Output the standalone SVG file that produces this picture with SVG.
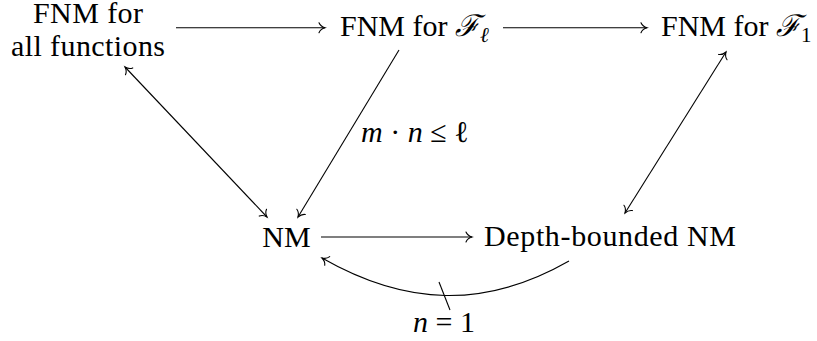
<svg xmlns="http://www.w3.org/2000/svg" width="817" height="341" viewBox="0 0 817 341">
<style>
text{font-size:30px;fill:#000}
.c{text-anchor:middle}
.i{font-style:italic}
.sub{font-size:21px}
.e{fill:none;stroke:#000;stroke-width:1.1}
.h{fill:none;stroke:#000;stroke-width:1.1;stroke-linecap:round}
</style>
<defs>
<marker id="to" markerUnits="userSpaceOnUse" markerWidth="14" markerHeight="14" viewBox="-8 -7 10 14" refX="0" refY="0" orient="auto-start-reverse">
<path class="h" d="M-6,-5 C-5,-2.5 -2,-0.6 0,0 C-2,0.6 -5,2.5 -6,5"/>
</marker>
</defs>
<rect width="817" height="341" fill="#fff"/>
<g style="font-family:'Liberation Serif','DejaVu Serif',serif">
<g id="n-all">
<text class="c" x="88" y="23" textLength="110" lengthAdjust="spacing">FNM for</text>
<text class="c" x="88" y="56" textLength="154" lengthAdjust="spacing">all functions</text>
</g>
<g id="n-fl">
<text x="340" y="36">FNM for <tspan class="i">ℱ</tspan><tspan class="sub i" dy="6">ℓ</tspan></text>
</g>
<g id="n-f1">
<text x="661" y="36">FNM for <tspan class="i">ℱ</tspan><tspan class="sub" dy="6">1</tspan></text>
</g>
<g id="n-nm">
<text class="c" x="286.5" y="247">NM</text>
</g>
<g id="n-dnm">
<text class="c" x="610" y="246" textLength="252" lengthAdjust="spacing">Depth-bounded NM</text>
</g>
<g id="edges">
<path class="e" d="M176,27.7 H325" marker-end="url(#to)"/>
<path class="e" d="M503,27.7 H647" marker-end="url(#to)"/>
<path class="e" d="M399,50 L298,217" marker-end="url(#to)"/>
<path class="e" d="M125,67 L267,217" marker-start="url(#to)" marker-end="url(#to)"/>
<path class="e" d="M625,213 L726,52" marker-start="url(#to)" marker-end="url(#to)"/>
<path class="e" d="M321,237 H472" marker-end="url(#to)"/>
<path class="e" d="M569,261 C485,309 406,306 322,258" marker-end="url(#to)"/>
<path class="e" d="M439,282 L450,310"/>
<text x="361" y="142"><tspan class="i">m</tspan> · <tspan class="i">n</tspan> ≤ ℓ</text>
<text class="c" x="444" y="332"><tspan class="i">n</tspan> = 1</text>
</g>
</g>
</svg>
